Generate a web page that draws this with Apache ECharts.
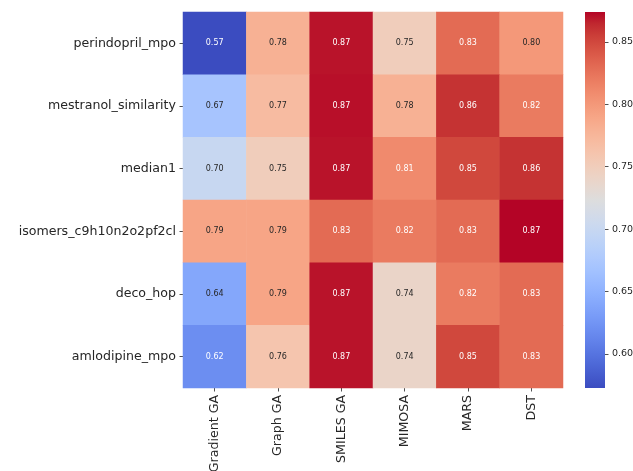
<!DOCTYPE html>
<html><head><meta charset="utf-8">
<script src="https://cdn.jsdelivr.net/npm/echarts@6/dist/echarts.min.js"></script>
<style>html,body{margin:0;padding:0;background:#fff}#c{width:633px;height:471px}</style>
</head><body><div id="c"></div>
<script>
const methods = ['Gradient GA', 'Graph GA', 'SMILES GA', 'MIMOSA', 'MARS', 'DST'];
const tasks = ['perindopril_mpo', 'mestranol_similarity', 'median1', 'isomers_c9h10n2o2pf2cl', 'deco_hop', 'amlodipine_mpo'];
const perindopril_mpo = [0.573, 0.780, 0.870, 0.750, 0.830, 0.800];
const mestranol_similarity = [0.670, 0.770, 0.871, 0.780, 0.860, 0.820];
const median1 = [0.700, 0.750, 0.870, 0.810, 0.850, 0.860];
const isomers_c9h10n2o2pf2cl = [0.790, 0.790, 0.830, 0.820, 0.830, 0.874];
const deco_hop = [0.640, 0.790, 0.870, 0.740, 0.820, 0.830];
const amlodipine_mpo = [0.620, 0.760, 0.870, 0.740, 0.850, 0.830];
const colorbarTicks = [0.60, 0.65, 0.70, 0.75, 0.80, 0.85];
const vMin = 0.5727, vMax = 0.874;

const rows = [perindopril_mpo, mestranol_similarity, median1, isomers_c9h10n2o2pf2cl, deco_hop, amlodipine_mpo];
const coolwarmRGB = [[59,76,192],[68,90,204],[77,104,215],[87,117,225],[98,130,234],[108,142,241],[119,154,247],[130,165,251],[141,176,254],[152,185,255],[163,194,255],[174,201,253],[184,208,249],[194,213,244],[204,217,238],[213,219,230],[221,221,221],[229,216,209],[236,211,197],[241,204,185],[245,196,173],[247,187,160],[247,177,148],[247,166,135],[244,154,123],[241,141,111],[236,127,99],[229,112,88],[222,96,77],[213,80,66],[203,62,56],[192,40,47],[180,4,38]];
const coolwarm = coolwarmRGB.map(c => 'rgb(' + c.join(',') + ')');

const data = [];
rows.forEach((r, i) => r.forEach((v, j) => {
  const light = (v > 0.805 || v < 0.63);
  data.push({value: [j, i, v], label: {color: light ? '#ffffff' : '#262626'}});
}));

const n = coolwarm.length;
const FONT = 'DejaVu Sans';
const TXT = '#262626';
const chart = echarts.init(document.getElementById('c'), null, {renderer: 'canvas'});
chart.setOption({
  animation: false,
  textStyle: {fontFamily: FONT},
  grid: [
    {left: 183, top: 12, width: 380, height: 376, containLabel: false, outerBoundsMode: 'none'},
    {left: 585, top: 12, width: 20, height: 376, containLabel: false, outerBoundsMode: 'none'}
  ],
  xAxis: [
    {type: 'category', data: methods, gridIndex: 0, position: 'bottom',
     axisLine: {show: false}, splitLine: {show: false},
     axisTick: {show: true, alignWithLabel: true, length: 3.5, lineStyle: {color: TXT, width: 0.8}},
     axisLabel: {rotate: 90, margin: 7, fontSize: 12.6, color: TXT, fontFamily: FONT}},
    {type: 'category', gridIndex: 1, show: false, data: ['cb']}
  ],
  yAxis: [
    {type: 'category', data: tasks, gridIndex: 0, inverse: true,
     axisLine: {show: false}, splitLine: {show: false},
     axisTick: {show: true, alignWithLabel: true, length: 3.5, lineStyle: {color: TXT, width: 0.8}},
     axisLabel: {margin: 7, fontSize: 12.6, color: TXT, fontFamily: FONT}},
    {type: 'value', gridIndex: 1, position: 'right', min: vMin, max: vMax,
     axisLine: {show: false}, splitLine: {show: false},
     axisTick: {show: true, length: 3.5, customValues: colorbarTicks, lineStyle: {color: TXT, width: 0.8}},
     axisLabel: {margin: 7, fontSize: 9.5, color: TXT, fontFamily: FONT, customValues: colorbarTicks,
       formatter: v => v.toFixed(2)}}
  ],
  visualMap: {
    type: 'continuous', min: vMin, max: vMax, seriesIndex: 0, show: false,
    inRange: {color: coolwarm}
  },
  series: [{
    type: 'heatmap', xAxisIndex: 0, yAxisIndex: 0, data: data,
    label: {show: true, fontSize: 8, fontFamily: FONT, formatter: p => p.value[2].toFixed(2)},
    itemStyle: {borderWidth: 0},
    emphasis: {disabled: true}
  }, {
    type: 'bar', xAxisIndex: 1, yAxisIndex: 1, data: [vMax], barWidth: '100%',
    silent: true,
    itemStyle: {color: {type: 'linear', x: 0, y: 1, x2: 0, y2: 0, colorStops: coolwarm.map((c, k) => ({offset: k / (n - 1), color: c}))}}
  }]
});
</script></body></html>
